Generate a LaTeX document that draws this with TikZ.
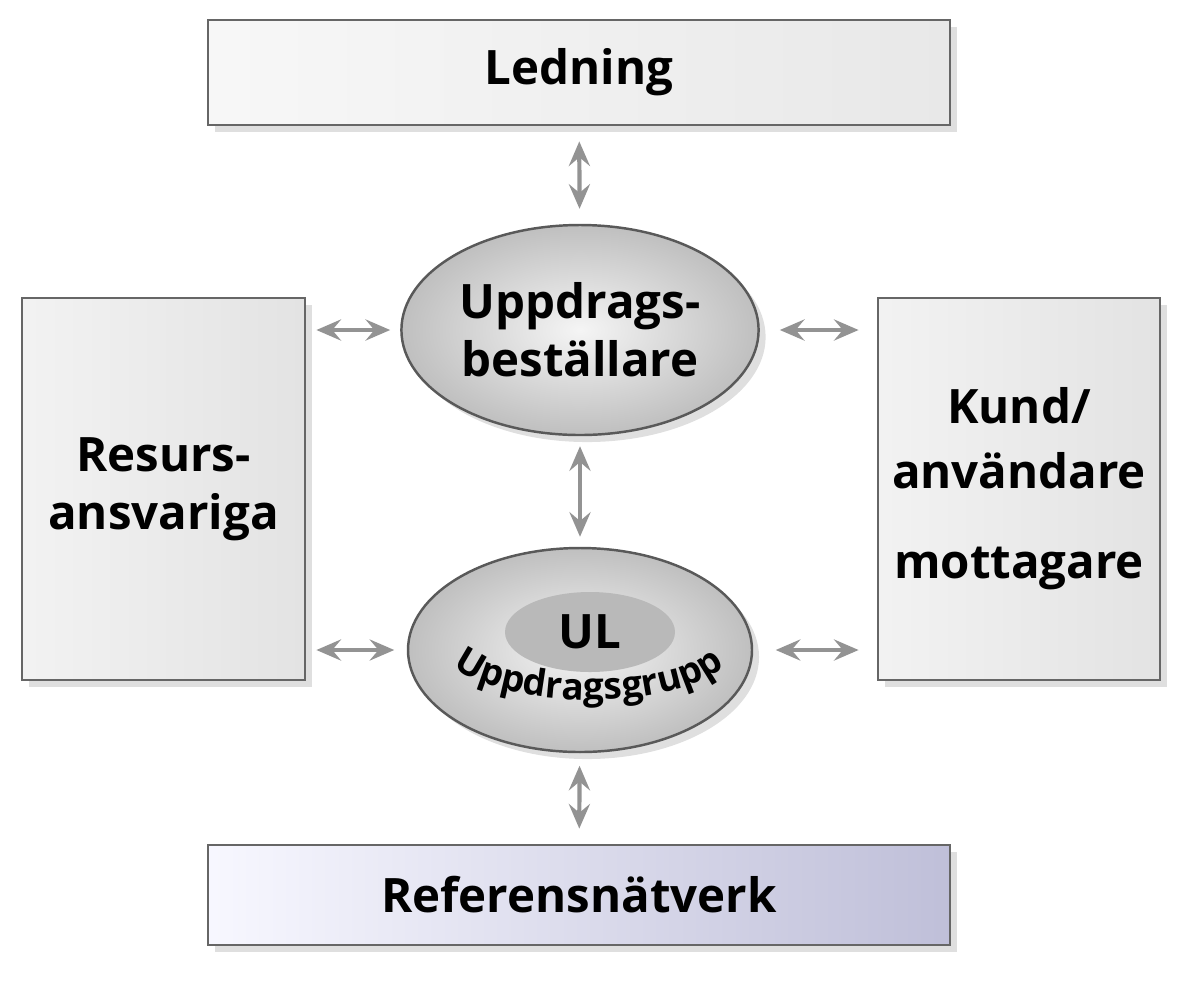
\documentclass[tikz,border=0pt]{standalone}
\usepackage{fontspec}
\setmainfont{Open Sans}
\usetikzlibrary{positioning,shapes.geometric,shadows,decorations.text,arrows.meta}

\tikzset{
  box/.style={draw=gray!80!black, line width=1.6pt, drop shadow={opacity=0.25,shadow xshift=4pt,shadow yshift=-4pt},
    font=\fontsize{27}{33}\selectfont\bfseries, align=center},
  oval/.style={ellipse, draw=gray!70!black, line width=1.4pt, inner color=gray!8, outer color=gray!50,
    drop shadow={opacity=0.25,shadow xshift=4pt,shadow yshift=-4pt},
    minimum width=7cm, minimum height=4.2cm, font=\fontsize{27}{33}\selectfont\bfseries, align=center},
  link/.style={<->, >={Stealth[open,length=14pt,width=12pt,inset=5pt]}, draw=gray!85, line width=2.4pt}
}

\begin{document}
\begin{tikzpicture}
  \useasboundingbox (0,0) rectangle (24,-20.08);

  % rutor
  \node[box, left color=gray!6, right color=gray!18, minimum width=14.84cm, minimum height=2.1cm] (led) at (11.58,-1.45) {Ledning};
  \node[box, left color=blue!3, right color=blue!25!gray!40, minimum width=14.84cm, minimum height=2cm] (ref) at (11.58,-17.9) {Referensnätverk};
  \node[box, left color=gray!10, right color=gray!22, minimum width=5.66cm, minimum height=7.64cm] (res) at (3.27,-9.78) {Resurs-\\ansvariga};
  \node[box, left color=gray!10, right color=gray!22, minimum width=5.64cm, minimum height=7.64cm, font=\fontsize{27}{37}\selectfont\bfseries] (kund) at (20.38,-9.78) {Kund/\\användare\\[0.5cm]mottagare};

  % ovaler
  \node[oval] (ub) at (11.6,-6.6) {Uppdrags-\\beställare};
  \node[oval, minimum width=6.88cm, minimum height=4.08cm] (ug) at (11.6,-13) {};
  \node[ellipse, fill=gray!55, minimum width=3.4cm, minimum height=1.6cm, font=\fontsize{27}{33}\selectfont\bfseries] (ul) at (11.8,-12.64) {UL};
  \path[decorate, decoration={text along path, text align=center,
      text={|\fontsize{21}{25}\selectfont\bfseries|Uppdragsgrupp}}]
    (8.95,-13.2) arc[start angle=196, end angle=344, x radius=2.95cm, y radius=1.1cm];

  % pilar
  \draw[link, shorten <=0.3cm, shorten >=0.3cm] (led) -- (ub);
  \draw[link, shorten <=0.2cm, shorten >=0.2cm] (ub) -- (ug);
  \draw[link, shorten <=0.25cm, shorten >=0.3cm] (ug) -- (ref);
  \draw[link, shorten <=0.2cm, shorten >=0.2cm] (res.east |- ub.west) -- (ub.west);
  \draw[link, shorten <=0.4cm, shorten >=0.36cm] (ub.east) -- (kund.west |- ub.east);
  \draw[link, shorten <=0.2cm, shorten >=0.25cm] (res.east |- ug.west) -- (ug.west);
  \draw[link, shorten <=0.45cm, shorten >=0.36cm] (ug.east) -- (kund.west |- ug.east);
\end{tikzpicture}
\end{document}
